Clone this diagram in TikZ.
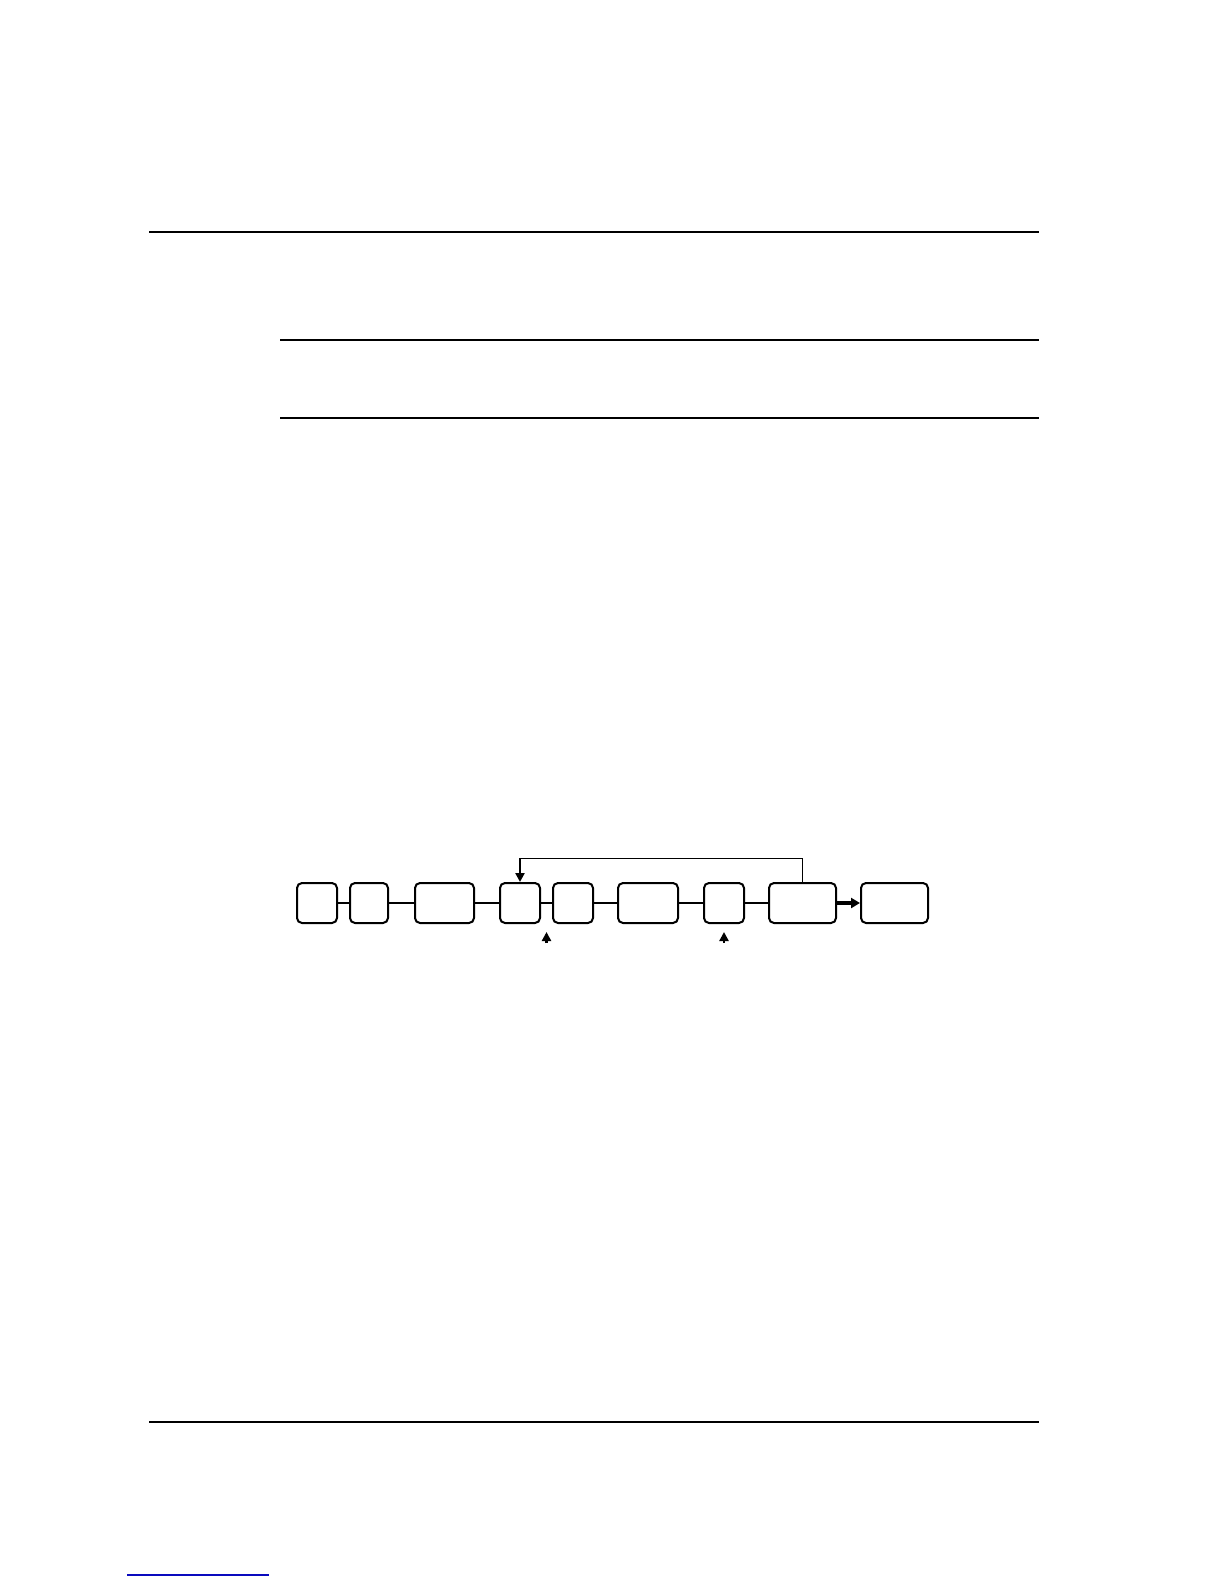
\documentclass[tikz,border=0pt]{standalone}
\usepackage{tikz}
\usetikzlibrary{arrows.meta}
\definecolor{linkblue}{RGB}{10,10,190}
\tikzset{
	keybox/.style={draw, line width=1pt, rounded corners=2.5pt, inner sep=0pt, minimum height=20pt},
	joinline/.style={line width=1pt},
	rule/.style={line width=0.7pt},
	uparrow/.style={line width=1.2pt, -{Triangle[length=4.5pt,width=4.5pt]}}
}

\begin{document}
\begin{tikzpicture}[x=0.5pt, y=-0.5pt]
		%%%%% START %%%%%
		\useasboundingbox (0,0) rectangle (1224,1584);
		
		\draw[rule] (149, 232) -- (1039, 232);
		\draw[rule] (280, 340) -- (1039, 340);
		\draw[line width=1.3pt] (280, 418) -- (1039, 418);
		
		\node[keybox, minimum width=20pt] (b1) at (317, 903) {};
		\node[keybox, minimum width=19pt] (b2) at (369, 903) {};
		\node[keybox, minimum width=29.5pt] (b3) at (444.5, 903) {};
		\node[keybox, minimum width=20pt] (b4) at (520, 903) {};
		\node[keybox, minimum width=20pt] (b5) at (573, 903) {};
		\node[keybox, minimum width=30pt] (b6) at (648, 903) {};
		\node[keybox, minimum width=20pt] (b7) at (724, 903) {};
		\node[keybox, minimum width=33.5pt] (b8) at (802.5, 903) {};
		\node[keybox, minimum width=33.5pt] (b9) at (894.5, 903) {};
		
		\draw[joinline] (b1) -- (b2);
		\draw[joinline] (b2) -- (b3);
		\draw[joinline] (b3) -- (b4);
		\draw[joinline] (b4) -- (b5);
		\draw[joinline] (b5) -- (b6);
		\draw[joinline] (b6) -- (b7);
		\draw[joinline] (b7) -- (b8);
		\draw[line width=1.6pt, -{Triangle[length=4.5pt,width=5pt]}] (b8) -- (b9);
		
		\coordinate (fb) at (b4.north |- 0, 858);
		\draw[line width=0.5pt] (b8.north) |- (fb);
		\draw[uparrow] (fb) -- (b4.north);
		
		\coordinate (u1) at (546.5, 943);
		\coordinate (u2) at (724, 943);
		\draw[uparrow] (u1) -- ++(0, -11);
		\draw[uparrow] (u2) -- ++(0, -11);
		
		\draw[rule] (149, 1422) -- (1039, 1422);
		\draw[line width=0.6pt, color=linkblue] (127, 1575) -- (269, 1575);
		%%%%% END %%%%%
	\end{tikzpicture}
\end{document}
